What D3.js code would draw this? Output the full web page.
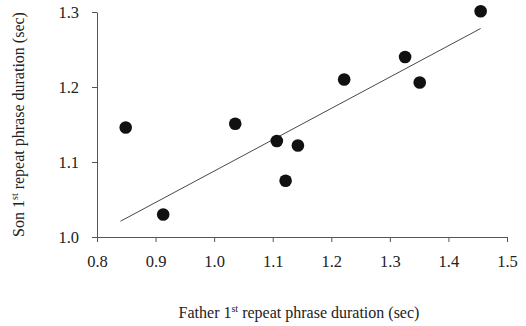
<!DOCTYPE html>
<html>
<head>
<meta charset="utf-8">
<script src="https://cdn.jsdelivr.net/npm/d3@7"></script>
<style>
  body { margin: 0; background: #fff; }
  svg text { font-family: "Liberation Serif", "DejaVu Serif", serif; fill: #222; }
</style>
</head>
<body>
<svg id="chart" width="526" height="326"></svg>
<script>
const fatherDur = [0.849, 0.913, 1.036, 1.107, 1.122, 1.143, 1.222, 1.326, 1.351, 1.455];
const sonDur = [1.146, 1.030, 1.151, 1.128, 1.075, 1.122, 1.210, 1.240, 1.206, 1.301];
const trendX = [0.84, 1.455];
const trendY = [1.021, 1.278];
const xTicks = [0.8, 0.9, 1.0, 1.1, 1.2, 1.3, 1.4, 1.5];
const yTicks = [1.0, 1.1, 1.2, 1.3];

const margin = { top: 12, right: 19, bottom: 89, left: 97 };
const width = 526 - margin.left - margin.right;
const height = 326 - margin.top - margin.bottom;

const svg = d3.select("#chart");
const chart = svg.append("g")
  .attr("transform", `translate(${margin.left}, ${margin.top})`);

const xScale = d3.scaleLinear().domain([0.8, 1.5]).range([0, width]);
const yScale = d3.scaleLinear().domain([1.0, 1.3]).range([height, 0]);

const xAxis = chart.append("g")
  .attr("transform", `translate(0, ${height})`)
  .call(d3.axisBottom(xScale).tickValues(xTicks).tickFormat(d3.format(".1f"))
    .tickSize(5).tickSizeOuter(0).tickPadding(13));

const yAxis = chart.append("g")
  .call(d3.axisLeft(yScale).tickValues(yTicks).tickFormat(d3.format(".1f"))
    .tickSize(5).tickSizeOuter(0).tickPadding(13));

[xAxis, yAxis].forEach((ax) => {
  ax.select(".domain").attr("stroke", "#555");
  ax.selectAll(".tick line").attr("stroke", "#555");
  ax.selectAll(".tick text")
    .style("font-family", "'Liberation Serif', serif")
    .style("font-size", "16.5px")
    .attr("fill", "#222");
});

// trend line
const line = d3.line()
  .x((d, i) => xScale(trendX[i]))
  .y((d, i) => yScale(trendY[i]));

chart.append("path")
  .attr("d", line(trendX))
  .attr("fill", "none")
  .attr("stroke", "#333")
  .attr("stroke-width", 0.9);

// points
chart.selectAll(".dot")
  .data(fatherDur)
  .enter()
  .append("circle")
  .attr("class", "dot")
  .attr("cx", (d) => xScale(d))
  .attr("cy", (d, i) => yScale(sonDur[i]))
  .attr("r", 6.3)
  .attr("fill", "#111");

// axis titles
function title(sel, who) {
  sel.append("tspan").text(who + " 1");
  sel.append("tspan").text("st").attr("font-size", "10px").attr("dy", "-6");
  sel.append("tspan").text(" repeat phrase duration (sec)").attr("dy", "6");
}

svg.append("text")
  .attr("x", 299)
  .attr("y", 318)
  .attr("text-anchor", "middle")
  .style("font-size", "16px")
  .call(title, "Father");

svg.append("text")
  .attr("transform", `translate(24, ${margin.top + height / 2}) rotate(-90)`)
  .attr("text-anchor", "middle")
  .style("font-size", "16px")
  .call(title, "Son");
</script>
</body>
</html>
